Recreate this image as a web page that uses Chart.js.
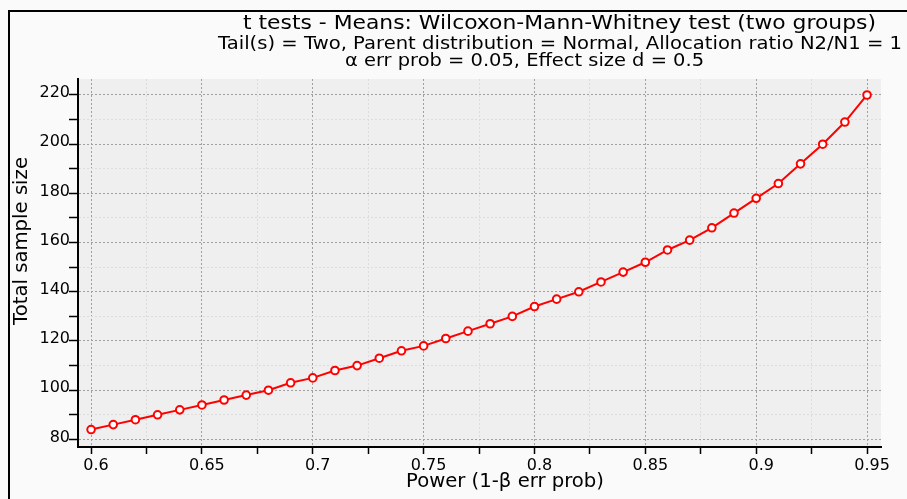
<!DOCTYPE html>
<html>
<head>
<meta charset="utf-8">
<script src="https://cdn.jsdelivr.net/npm/chart.js@4.4.0/dist/chart.umd.min.js"></script>
<style>
  html, body { margin: 0; padding: 0; background: #fafafa; }
  canvas { display: block; }
</style>
</head>
<body>
<canvas id="chart" width="907" height="499"></canvas>
<script>
// data
const power = [0.60, 0.61, 0.62, 0.63, 0.64, 0.65, 0.66, 0.67, 0.68, 0.69,
               0.70, 0.71, 0.72, 0.73, 0.74, 0.75, 0.76, 0.77, 0.78, 0.79,
               0.80, 0.81, 0.82, 0.83, 0.84, 0.85, 0.86, 0.87, 0.88, 0.89,
               0.90, 0.91, 0.92, 0.93, 0.94, 0.95];
const totalSampleSize = [84, 86, 88, 90, 92, 94, 96, 98, 100, 103,
                         105, 108, 110, 113, 116, 118, 121, 124, 127, 130,
                         134, 137, 140, 144, 148, 152, 157, 161, 166, 172,
                         178, 184, 192, 200, 209, 220];

const titleLines = [
  't tests - Means: Wilcoxon-Mann-Whitney test (two groups)',
  'Tail(s) = Two, Parent distribution = Normal, Allocation ratio N2/N1 = 1',
  'α err prob = 0.05, Effect size d = 0.5'
];
const xTitle = 'Power (1-β err prob)';
const yTitle = 'Total sample size';

const FONT = '"DejaVu Sans", sans-serif';

// draw text stretched to a given width (the original font is wider than DejaVu)
function fitText(ctx, text, x, y, width, size, rotate) {
  ctx.save();
  ctx.font = size + 'px ' + FONT;
  const w = ctx.measureText(text).width;
  ctx.translate(x, y);
  if (rotate) ctx.rotate(-Math.PI / 2);
  ctx.scale(width / w, 1);
  ctx.textAlign = 'center';
  ctx.textBaseline = 'alphabetic';
  ctx.fillStyle = '#000';
  ctx.fillText(text, 0, 0);
  ctx.restore();
}

const decor = {
  id: 'decor',
  beforeDraw(chart) {
    const { ctx, chartArea: a } = chart;
    ctx.save();
    ctx.fillStyle = '#fafafa';
    ctx.fillRect(0, 0, chart.width, chart.height);
    ctx.fillStyle = '#efefef';
    ctx.fillRect(a.left, a.top, a.right - a.left, a.bottom - a.top);
    ctx.restore();
  },
  afterDraw(chart) {
    const { ctx } = chart;
    ctx.save();
    ctx.strokeStyle = '#000';
    ctx.lineWidth = 2;
    ctx.beginPath();
    ctx.moveTo(9, chart.height + 5);
    ctx.lineTo(9, 11);
    ctx.lineTo(chart.width + 5, 11);
    ctx.stroke();
    ctx.restore();

    fitText(ctx, titleLines[0], 559.5, 29, 633, 19.5);
    fitText(ctx, titleLines[1], 560, 49, 684, 18.5);
    fitText(ctx, titleLines[2], 524.5, 66, 359, 18.5);
    fitText(ctx, xTitle, 505, 487, 198, 20);
    fitText(ctx, yTitle, 27, 241, 168, 19.5, true);
  }
};

const isMajorX = v => Math.abs(v * 20 - Math.round(v * 20)) < 1e-6;
const isMajorY = v => Math.round(v) % 20 === 0;

new Chart(document.getElementById('chart'), {
  type: 'line',
  data: {
    datasets: [{
      data: power.map((p, i) => ({ x: p, y: totalSampleSize[i] })),
      borderColor: '#ff0000',
      borderWidth: 2,
      pointRadius: 3.8,
      pointBorderWidth: 2,
      pointBackgroundColor: '#ffffff',
      pointBorderColor: '#ff0000',
      tension: 0
    }]
  },
  options: {
    responsive: false,
    animation: false,
    devicePixelRatio: 1,
    layout: { padding: { left: 0, top: 79, right: 26, bottom: 0 } },
    plugins: { legend: { display: false }, tooltip: { enabled: false } },
    scales: {
      x: {
        type: 'linear',
        min: 0.5941,
        max: 0.9563,
        afterFit(s) { s.height = 52; },
        ticks: {
          stepSize: 0.025,
          includeBounds: false,
          autoSkip: false,
          maxRotation: 0,
          labelOffset: 5,
          padding: 2,
          color: '#000',
          font: { family: FONT, size: 16 },
          callback: v => isMajorX(v) ? String(Math.round(v * 100) / 100) : ''
        },
        grid: {
          color: c => isMajorX(c.tick.value) ? '#a0a0a0' : '#dcdcdc',
          tickColor: '#000',
          tickLength: 7,
          tickWidth: 1.5
        },
        border: { color: '#000', width: 2, dash: [2, 2] }
      },
      y: {
        min: 76.9,
        max: 226.5,
        afterFit(s) { s.width = 78; },
        ticks: {
          stepSize: 10,
          includeBounds: false,
          autoSkip: false,
          labelOffset: -2,
          padding: -1,
          color: '#000',
          font: { family: FONT, size: 16 },
          callback: v => isMajorY(v) ? String(v) : ''
        },
        grid: {
          color: c => isMajorY(c.tick.value) ? '#a0a0a0' : '#dcdcdc',
          tickColor: '#000',
          tickLength: 9,
          tickWidth: 1.5
        },
        border: { color: '#000', width: 2, dash: [2, 2] }
      }
    }
  },
  plugins: [decor]
});
</script>
</body>
</html>
